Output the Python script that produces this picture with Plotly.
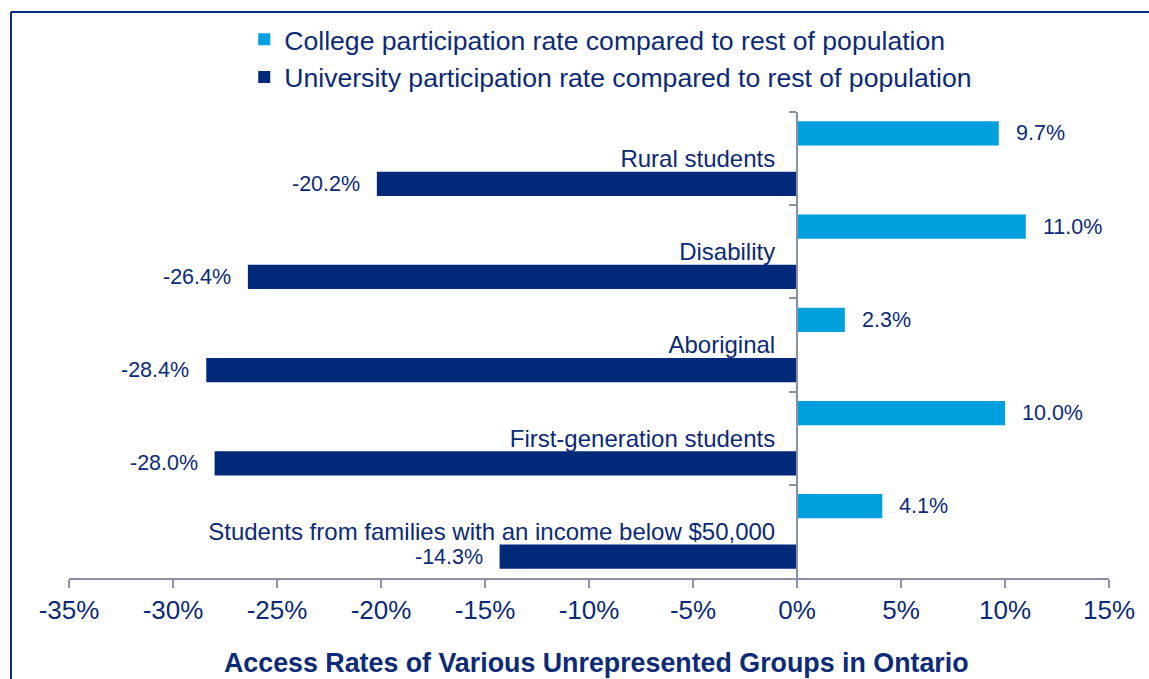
import plotly.graph_objects as go

categories = [
    "Rural students",
    "Disability",
    "Aboriginal",
    "First-generation students",
    "Students from families with an income below $50,000",
]
college = [9.7, 11.0, 2.3, 10.0, 4.1]
university = [-20.2, -26.4, -28.4, -28.0, -14.3]
x_ticks = [-35, -30, -25, -20, -15, -10, -5, 0, 5, 10, 15]
x_tick_labels = ["-35%", "-30%", "-25%", "-20%", "-15%", "-10%", "-5%", "0%", "5%", "10%", "15%"]

NAVY_TEXT = "#0b2a78"
DARK = "#00297a"
LIGHT = "#00a0de"
AXIS = "#8c8fa8"
FONT = "Liberation Sans, Arial, sans-serif"

BAR_W = 0.26
GAP_OFF = 0.14

fig = go.Figure()
fig.add_trace(go.Bar(
    y=categories, x=college, orientation="h",
    name="College participation rate compared to rest of population",
    marker=dict(color=LIGHT, line=dict(width=0)),
    width=BAR_W, offset=-(GAP_OFF + BAR_W),
))
fig.add_trace(go.Bar(
    y=categories, x=university, orientation="h",
    name="University participation rate compared to rest of population",
    marker=dict(color=DARK, line=dict(width=0)),
    width=BAR_W, offset=GAP_OFF,
))

annotations = []
mid_c = -(GAP_OFF + BAR_W / 2)
mid_u = GAP_OFF + BAR_W / 2
for i, (c, u) in enumerate(zip(college, university)):
    annotations.append(dict(
        x=c, y=i + mid_c, xref="x", yref="y", text=f"{c:.1f}%",
        showarrow=False, xanchor="left", yanchor="middle", xshift=15,
        font=dict(size=21.5, color=NAVY_TEXT, family=FONT),
    ))
    annotations.append(dict(
        x=u, y=i + mid_u, xref="x", yref="y", text=f"{u:.1f}%",
        showarrow=False, xanchor="right", yanchor="middle", xshift=-15,
        font=dict(size=21.5, color=NAVY_TEXT, family=FONT),
    ))

annotations.append(dict(
    x=0.507, y=-0.182, xref="paper", yref="paper",
    text="<b>Access Rates of Various Unrepresented Groups in Ontario</b>",
    showarrow=False, xanchor="center", yanchor="middle",
    font=dict(size=26.8, color=NAVY_TEXT, family=FONT),
))

xmin, xmax = x_ticks[0], x_ticks[-1]
fig.update_layout(
    width=1149, height=679,
    margin=dict(l=69, r=40, t=112, b=101),
    paper_bgcolor="white", plot_bgcolor="white",
    barmode="overlay",
    font=dict(family=FONT, color=NAVY_TEXT),
    showlegend=True,
    legend=dict(
        x=0.1685, y=1.207, xanchor="left", yanchor="top",
        font=dict(size=26.6, color=NAVY_TEXT, family=FONT),
        bgcolor="rgba(0,0,0,0)", traceorder="normal",
    ),
    xaxis=dict(
        range=[xmin, xmax], tickvals=x_ticks, ticktext=x_tick_labels,
        showgrid=False, zeroline=False,
        showline=True, linecolor=AXIS, linewidth=2,
        ticks="outside", ticklen=8, tickwidth=2, tickcolor=AXIS,
        tickfont=dict(size=26, color=NAVY_TEXT, family=FONT),
    ),
    yaxis=dict(
        type="category", categoryorder="array", categoryarray=categories,
        range=[len(categories) - 0.5, -0.5],
        anchor="free", position=(0 - xmin) / (xmax - xmin),
        showgrid=False, zeroline=False,
        showline=True, linecolor=AXIS, linewidth=2,
        ticks="outside", ticklen=7, tickwidth=2, tickcolor=AXIS,
        tickson="boundaries", ticklabelstandoff=16,
        tickfont=dict(size=24, color=NAVY_TEXT, family=FONT),
    ),
    annotations=annotations,
    shapes=[
        dict(type="line", xref="paper", yref="paper",
             x0=(11 - 69) / 1040, x1=(11 - 69) / 1040, y0=1.2146, y1=-0.3,
             line=dict(color="#0a2d82", width=2)),
        dict(type="line", xref="paper", yref="paper",
             x0=(11 - 69) / 1040, x1=1.1, y0=1.2146, y1=1.2146,
             line=dict(color="#0a2d82", width=2)),
    ],
)

fig.write_html("out.html")
